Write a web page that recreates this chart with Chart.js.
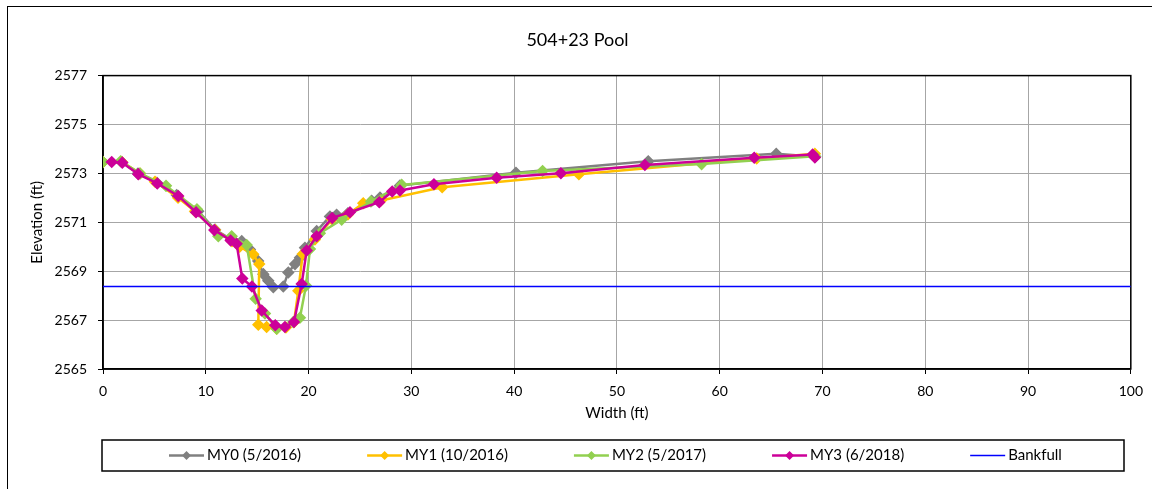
<!DOCTYPE html>
<html>
<head>
<meta charset="utf-8">
<script src="https://cdn.jsdelivr.net/npm/chart.js@4/dist/chart.umd.min.js"></script>
<style>
  body { margin: 0; background: #fff; }
  #wrap { width: 1152px; height: 489px; }
</style>
</head>
<body>
<div id="wrap"><canvas id="poolChart"></canvas></div>
<script>
// cross-section surveys, width (ft) vs elevation (ft)
const my0_x = [0, 1.82, 3.4, 5.25, 7.17, 9.27, 10.9, 12.45, 13.5, 14.3, 15.1, 15.6, 16.08, 16.57, 17.54, 18.03, 18.68, 19.16, 19.65, 20.79, 22.08, 22.73, 23.83, 26.14, 26.95, 28.89, 40.18, 53.05, 65.5, 69.3];
const my0_y = [2573.47, 2573.47, 2573.0, 2572.62, 2572.12, 2571.45, 2570.7, 2570.3, 2570.23, 2569.89, 2569.42, 2568.88, 2568.61, 2568.34, 2568.37, 2568.95, 2569.29, 2569.55, 2569.96, 2570.64, 2571.24, 2571.31, 2571.37, 2571.88, 2572.01, 2572.5, 2573.03, 2573.5, 2573.8, 2573.68];

const my1_x = [0, 1.85, 3.6, 5.06, 7.3, 8.95, 10.9, 12.55, 13.3, 14.62, 15.2, 15.11, 15.92, 16.9, 17.8, 18.58, 19.0, 19.43, 20.62, 22.28, 23.83, 25.32, 27.04, 33.0, 46.3, 63.6, 69.26];
const my1_y = [2573.47, 2573.47, 2573.0, 2572.66, 2572.0, 2571.45, 2570.68, 2570.23, 2570.0, 2569.69, 2569.29, 2566.81, 2566.72, 2566.65, 2566.7, 2566.91, 2568.2, 2569.7, 2570.3, 2571.12, 2571.32, 2571.78, 2571.89, 2572.43, 2572.97, 2573.61, 2573.8];

const my2_x = [0, 1.72, 3.6, 6.13, 9.14, 11.22, 12.52, 13.98, 14.85, 15.76, 16.9, 18.51, 19.16, 19.75, 20.14, 21.1, 23.22, 26.07, 29.06, 42.77, 58.24, 69.26];
const my2_y = [2573.47, 2573.5, 2573.0, 2572.49, 2571.53, 2570.43, 2570.43, 2570.07, 2567.87, 2567.27, 2566.65, 2566.92, 2567.1, 2568.41, 2569.91, 2570.55, 2571.11, 2571.85, 2572.53, 2573.1, 2573.38, 2573.7];

const my3_x = [0.85, 1.88, 3.43, 5.28, 7.32, 9.05, 10.83, 12.42, 13.0, 13.55, 14.49, 15.44, 16.76, 17.7, 18.58, 19.33, 19.82, 20.79, 22.3, 24.03, 26.88, 28.14, 28.89, 32.2, 38.3, 44.55, 52.72, 63.36, 69.04, 69.26];
const my3_y = [2573.47, 2573.44, 2572.97, 2572.59, 2572.08, 2571.41, 2570.68, 2570.26, 2570.12, 2568.7, 2568.37, 2567.39, 2566.79, 2566.72, 2566.92, 2568.48, 2569.85, 2570.43, 2571.18, 2571.41, 2571.82, 2572.26, 2572.3, 2572.56, 2572.82, 2573.01, 2573.34, 2573.64, 2573.77, 2573.65];

const bankfull_x = [0, 100];
const bankfull_y = [2568.37, 2568.37];

const seriesLabels = ['MY0 (5/2016)', 'MY1 (10/2016)', 'MY2 (5/2017)', 'MY3 (6/2018)', 'Bankfull'];
const seriesColors = ['#808080', '#FFC000', '#92D050', '#CC0099', '#0000FF'];

const xTicks = [0, 10, 20, 30, 40, 50, 60, 70, 80, 90, 100];
const yTicks = [2565, 2567, 2569, 2571, 2573, 2575, 2577];

const FONT = 'Lato, "Open Sans", sans-serif';

function toPoints(xs, ys) {
	return xs.map((x, i) => ({x: x, y: ys[i]}));
}

function surveySet(i, xs, ys) {
	return {
		label: seriesLabels[i],
		data: toPoints(xs, ys),
		showLine: true,
		borderColor: seriesColors[i],
		backgroundColor: seriesColors[i],
		borderWidth: 2.5,
		pointStyle: 'rectRot',
		pointRadius: 4.5,
		pointHoverRadius: 4.5,
		order: 5 - i
	};
}

// box round plot area + outer frame + hand drawn legend
const framePlugin = {
	id: 'frame',
	beforeDatasetsDraw(chart) {
		const a = chart.chartArea;
		const c = chart.ctx;
		c.save();
		c.strokeStyle = '#000';
		c.lineWidth = 1.5;
		c.strokeRect(a.left, a.top, a.right - a.left, a.bottom - a.top);
		c.restore();
	},
	afterDraw(chart) {
		const c = chart.ctx;
		c.save();
		// outer frame
		c.strokeStyle = '#000';
		c.lineWidth = 1;
		c.strokeRect(7.5, 6.5, 1160, 500);
		// legend box
		c.lineWidth = 1.5;
		c.strokeRect(102, 440, 1022, 31);
		c.font = '15px ' + FONT;
		c.textBaseline = 'middle';
		c.fillStyle = '#000';
		let x = 169;
		const y = 455.5;
		chart.data.datasets.forEach((ds, i) => {
			c.strokeStyle = ds.borderColor;
			c.lineWidth = i === 4 ? 1.5 : 2.5;
			c.beginPath();
			c.moveTo(x, y);
			c.lineTo(x + 35, y);
			c.stroke();
			if (i < 4) {
				c.fillStyle = ds.backgroundColor;
				c.beginPath();
				c.moveTo(x + 17.5, y - 4.5);
				c.lineTo(x + 22, y);
				c.lineTo(x + 17.5, y + 4.5);
				c.lineTo(x + 13, y);
				c.closePath();
				c.fill();
			}
			c.fillStyle = '#000';
			c.fillText(ds.label, x + 38, y);
			x += 38 + c.measureText(ds.label).width + 66;
		});
		c.restore();
	}
};

const ctx = document.getElementById('poolChart').getContext('2d');

const poolChart = new Chart(ctx, {
	type: 'scatter',
	data: {
		datasets: [
			surveySet(0, my0_x, my0_y),
			surveySet(1, my1_x, my1_y),
			surveySet(2, my2_x, my2_y),
			surveySet(3, my3_x, my3_y),
			{
				label: seriesLabels[4],
				data: toPoints(bankfull_x, bankfull_y),
				showLine: true,
				borderColor: seriesColors[4],
				backgroundColor: seriesColors[4],
				borderWidth: 1.5,
				pointRadius: 0,
				pointHoverRadius: 0,
				order: 0
			}
		]
	},
	options: {
		responsive: true,
		maintainAspectRatio: false,
		animation: false,
		layout: {
			padding: {left: 24, right: 21, top: 0, bottom: 63}
		},
		plugins: {
			legend: {display: false},
			tooltip: {enabled: false},
			title: {
				display: true,
				text: '504+23 Pool',
				color: '#000',
				font: {family: FONT, size: 18, weight: 'normal'},
				padding: {top: 29, bottom: 25}
			}
		},
		scales: {
			x: {
				type: 'linear',
				min: 0,
				max: 100,
				afterBuildTicks: axis => { axis.ticks = xTicks.map(v => ({value: v})); },
				afterFit: axis => { axis.height = 57; },
				grid: {color: '#a6a6a6', lineWidth: 1, tickLength: 5, tickColor: '#000'},
				border: {color: '#000', width: 1.5},
				ticks: {color: '#000', padding: 9, font: {family: FONT, size: 14}, callback: v => String(v)},
				title: {display: true, text: 'Width (ft)', color: '#000', font: {family: FONT, size: 15}}
			},
			y: {
				type: 'linear',
				min: 2565,
				max: 2577,
				afterBuildTicks: axis => { axis.ticks = yTicks.map(v => ({value: v})); },
				afterFit: axis => { axis.width = 79; },
				grid: {color: '#a6a6a6', lineWidth: 1, tickLength: 5, tickColor: '#000'},
				border: {color: '#000', width: 1.5},
				ticks: {color: '#000', padding: 11, font: {family: FONT, size: 14}, callback: v => String(v)},
				title: {display: true, text: 'Elevation (ft)', color: '#000', font: {family: FONT, size: 15}}
			}
		}
	},
	plugins: [framePlugin]
});
</script>
</body>
</html>
